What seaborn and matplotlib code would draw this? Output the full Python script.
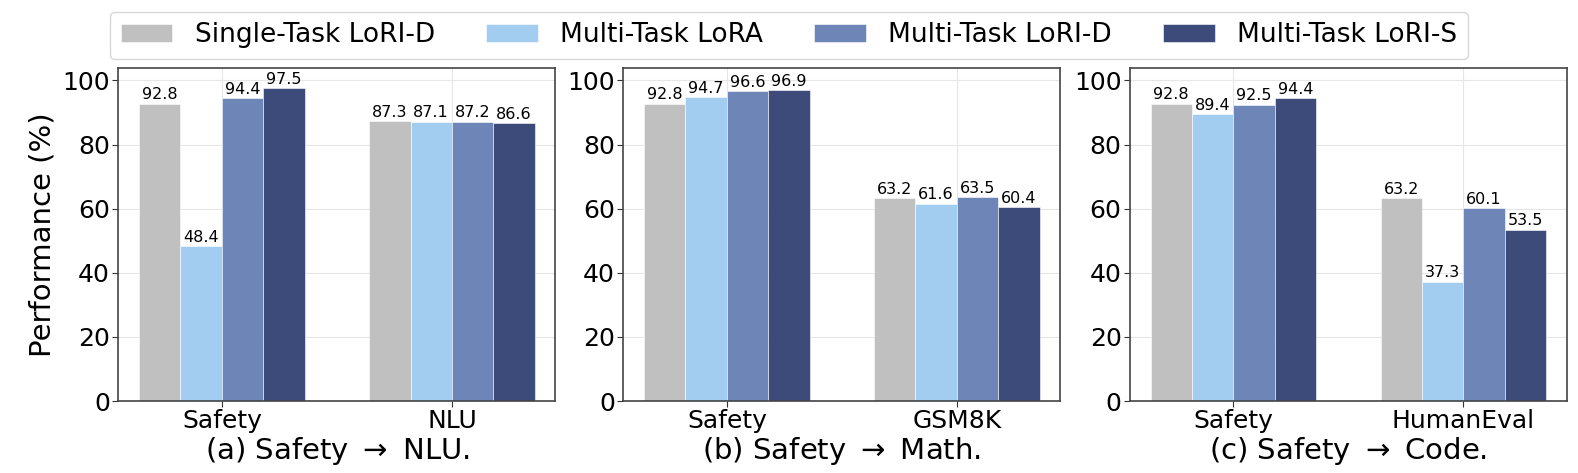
import pandas as pd
import matplotlib
matplotlib.use("Agg")
import matplotlib.pyplot as plt
import seaborn as sns

# Data
methods = ["Single-Task LoRI-D", "Multi-Task LoRA", "Multi-Task LoRI-D", "Multi-Task LoRI-S"]
colors = ["#C0C0C0", "#A3CDF0", "#6D86B7", "#3C4B79"]

tasks_a = ["Safety", "NLU"]
single_a = [92.8, 87.3]
lora_a = [48.4, 87.1]
lori_d_a = [94.4, 87.2]
lori_s_a = [97.5, 86.6]

tasks_b = ["Safety", "GSM8K"]
single_b = [92.8, 63.2]
lora_b = [94.7, 61.6]
lori_d_b = [96.6, 63.5]
lori_s_b = [96.9, 60.4]

tasks_c = ["Safety", "HumanEval"]
single_c = [92.8, 63.2]
lora_c = [89.4, 37.3]
lori_d_c = [92.5, 60.1]
lori_s_c = [94.4, 53.5]

titles = [
    "(a) Safety $\\rightarrow$ NLU.",
    "(b) Safety $\\rightarrow$ Math.",
    "(c) Safety $\\rightarrow$ Code.",
]


def make_frame(tasks, *series):
    rows = []
    for name, vals in zip(methods, series):
        for t, v in zip(tasks, vals):
            rows.append({"task": t, "method": name, "score": v})
    return pd.DataFrame(rows)


frames = [
    make_frame(tasks_a, single_a, lora_a, lori_d_a, lori_s_a),
    make_frame(tasks_b, single_b, lora_b, lori_d_b, lori_s_b),
    make_frame(tasks_c, single_c, lora_c, lori_d_c, lori_s_c),
]

sns.set_style("whitegrid")
plt.rcParams["font.family"] = ["DejaVu Sans"]
plt.rcParams["text.color"] = "black"
plt.rcParams["axes.labelcolor"] = "black"
plt.rcParams["xtick.color"] = "black"
plt.rcParams["ytick.color"] = "black"

fig = plt.figure(figsize=(15.78, 4.73), dpi=100)

lefts = [0.075, 0.395, 0.716]
axes = []
for i, (df, title) in enumerate(zip(frames, titles)):
    ax = fig.add_axes([lefts[i], 0.152, 0.277, 0.705])
    axes.append(ax)

    sns.barplot(
        data=df,
        x="task",
        y="score",
        hue="method",
        hue_order=methods,
        palette=colors,
        saturation=1,
        width=0.72,
        edgecolor="white",
        linewidth=0.4,
        ax=ax,
    )

    # value labels on top of bars
    for cont in ax.containers:
        ax.bar_label(cont, fmt="%.1f", fontsize=11.5, padding=1, color="black")

    ax.set_xlim(-0.45, 1.45)
    ax.set_ylim(0, 104)
    ax.set_yticks([0, 20, 40, 60, 80, 100])
    ax.set_xlabel(title, fontsize=21, labelpad=1)
    if i == 0:
        ax.set_ylabel("Performance (%)", fontsize=21)
    else:
        ax.set_ylabel("")
    ax.tick_params(axis="both", labelsize=18, length=4, color="#333333", bottom=True, left=True, pad=2)
    ax.grid(True, color="#E6E6E6", linewidth=0.8)
    for s in ax.spines.values():
        s.set_edgecolor("#444444")
        s.set_linewidth(1.2)
    ax.get_legend().remove()

# shared legend
handles, labels = axes[0].get_legend_handles_labels()
fig.legend(
    handles,
    labels,
    loc="upper center",
    bbox_to_anchor=(0.5, 0.975),
    borderaxespad=0,
    ncol=4,
    fontsize=19,
    frameon=True,
    handlelength=1.95,
    handleheight=0.7,
    columnspacing=1.95,
    handletextpad=0.85,
    borderpad=0.4,
)

fig.savefig("out.png", dpi=100)
